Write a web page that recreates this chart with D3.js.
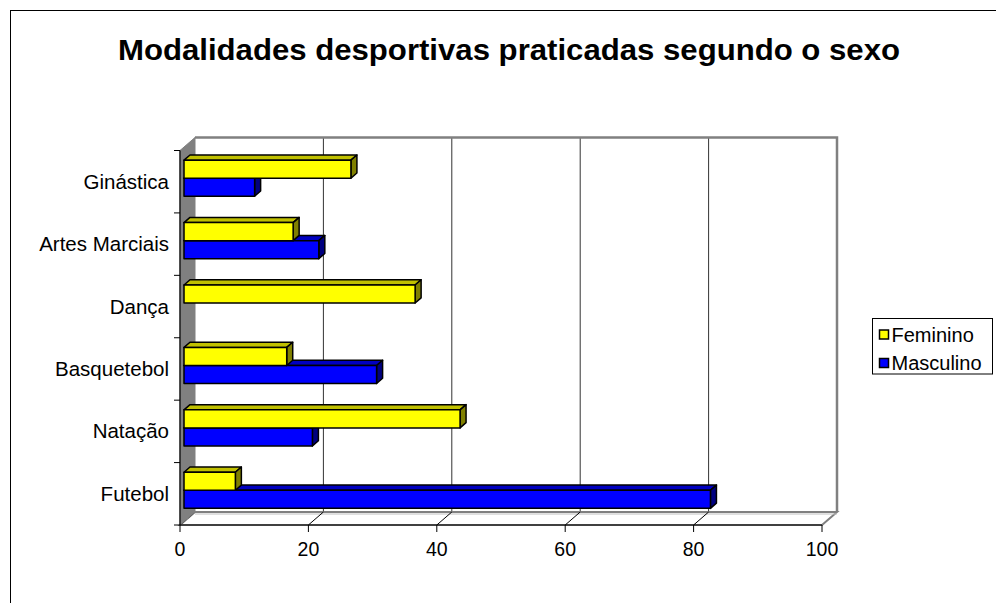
<!DOCTYPE html>
<html>
<head>
<meta charset="utf-8">
<script src="https://cdn.jsdelivr.net/npm/d3@7"></script>
<style>
  html, body { margin: 0; padding: 0; background: #fff; }
  svg { display: block; }
  text { font-family: Arial, "Liberation Sans", sans-serif; fill: #000; }
</style>
</head>
<body>
<svg id="chart" width="996" height="603"></svg>
<script>
// ---- data ----
const categories = ["Futebol", "Natação", "Basquetebol", "Dança", "Artes Marciais", "Ginástica"];
const feminino   = [8, 43, 16, 36, 17, 26];
const masculino  = [82, 20, 30, 0, 21, 11];
const seriesNames = ["Feminino", "Masculino"];
const xTicks = [0, 20, 40, 60, 80, 100];
const titleText = "Modalidades desportivas praticadas segundo o sexo";

// ---- layout ----
const svg = d3.select("#chart");
const frontLeft = 180, frontRight = 822, frontTop = 150.5, frontBottom = 525;
const depthDx = 15, depthDy = -13;           // wall depth
const barFront = [4, -3.5], barBack = [10, -8.7]; // bar depth offsets

const x = d3.scaleLinear().domain([0, 100]).range([frontLeft, frontRight]);
const y = d3.scaleBand().domain(categories).range([frontBottom, frontTop]);
const ySub = d3.scaleBand().domain(seriesNames).range([0, y.bandwidth()])
  .paddingInner(0).paddingOuter(0.73);

// outer border
svg.append("rect").attr("x", 10.5).attr("y", 10.5).attr("width", 1000).attr("height", 700)
  .attr("fill", "none").attr("stroke", "#000").attr("stroke-width", 1);

// title
svg.append("text").attr("x", 509).attr("y", 60).attr("text-anchor", "middle")
  .attr("font-size", 30).attr("font-weight", "bold")
  .attr("textLength", 782).attr("lengthAdjust", "spacingAndGlyphs")
  .text(titleText);

// back wall
const bx0 = frontLeft + depthDx, bx1 = frontRight + depthDx;
const by0 = frontTop + depthDy, by1 = frontBottom + depthDy;
svg.append("rect").attr("x", bx0).attr("y", by0).attr("width", bx1 - bx0).attr("height", by1 - by0)
  .attr("fill", "#fff").attr("stroke", "none");

// gridlines on back wall
svg.append("g").selectAll("line").data(xTicks.filter(d => d > 0 && d < 100)).join("line")
  .attr("x1", d => x(d) + depthDx).attr("x2", d => x(d) + depthDx)
  .attr("y1", by0).attr("y2", by1)
  .attr("stroke", "#333").attr("stroke-width", 1);

// back wall border (top & right)
svg.append("path")
  .attr("d", `M${bx0},${by0} L${bx1},${by0} L${bx1},${by1}`)
  .attr("fill", "none").attr("stroke", "#808080").attr("stroke-width", 2.5);

// floor
svg.append("path")
  .attr("d", `M${frontLeft},${frontBottom} L${bx0},${by1} L${bx1},${by1} L${frontRight},${frontBottom} Z`)
  .attr("fill", "#fff").attr("stroke", "#808080").attr("stroke-width", 2);
svg.append("line").attr("x1", bx0).attr("x2", bx1).attr("y1", by1 + 2).attr("y2", by1 + 2)
  .attr("stroke", "#c0c0c0").attr("stroke-width", 1);

// floor diagonals at ticks
svg.append("g").selectAll("line").data(xTicks.filter(d => d < 100)).join("line")
  .attr("x1", d => x(d)).attr("y1", frontBottom)
  .attr("x2", d => x(d) + depthDx).attr("y2", by1)
  .attr("stroke", "#000").attr("stroke-width", 1);

// left wall
svg.append("path")
  .attr("d", `M${frontLeft},${frontTop} L${bx0},${by0} L${bx0},${by1} L${frontLeft},${frontBottom} Z`)
  .attr("fill", "#808080").attr("stroke", "#808080").attr("stroke-width", 1);

// left axis line and ticks
svg.append("line").attr("x1", frontLeft).attr("x2", frontLeft).attr("y1", frontTop).attr("y2", frontBottom)
  .attr("stroke", "#000").attr("stroke-width", 1.2);
const catBounds = categories.map(c => y(c)).concat([y(categories[0]) + y.bandwidth()]);
svg.append("g").selectAll("line").data(catBounds).join("line")
  .attr("x1", frontLeft - 6).attr("x2", frontLeft).attr("y1", d => d).attr("y2", d => d)
  .attr("stroke", "#000").attr("stroke-width", 1);

// category labels
svg.append("g").selectAll("text").data(categories).join("text")
  .attr("x", 169).attr("y", d => y(d) + y.bandwidth() / 2 + 7)
  .attr("text-anchor", "end").attr("font-size", 20.5)
  .text(d => d);

// front x axis
svg.append("line").attr("x1", frontLeft).attr("x2", frontRight).attr("y1", frontBottom).attr("y2", frontBottom)
  .attr("stroke", "#000").attr("stroke-width", 1.2);
svg.append("g").selectAll("line").data(xTicks).join("line")
  .attr("x1", d => x(d)).attr("x2", d => x(d)).attr("y1", frontBottom).attr("y2", frontBottom + 7)
  .attr("stroke", "#000").attr("stroke-width", 1);
svg.append("g").selectAll("text").data(xTicks).join("text")
  .attr("x", d => x(d)).attr("y", 556).attr("text-anchor", "middle").attr("font-size", 19.5)
  .text(d => d);

// bars
const colors = {
  Feminino:  { front: "#ffff00", top: "#c0c000", side: "#808000" },
  Masculino: { front: "#0000ff", top: "#0000c0", side: "#000080" }
};
const rows = categories.map((c, i) => ({ cat: c, Feminino: feminino[i], Masculino: masculino[i] }));
const barG = svg.append("g");
rows.forEach(r => {
  ["Masculino", "Feminino"].forEach(s => {
    const v = r[s];
    if (!(v > 0)) return;
    const h = ySub.bandwidth();
    const y0 = y(r.cat) + ySub(s);
    const x0 = x(0), x1 = x(v);
    const fx = barFront[0], fy = barFront[1], kx = barBack[0], ky = barBack[1];
    const g = barG.append("g").attr("stroke", "#000").attr("stroke-width", 1.5).attr("stroke-linejoin", "round");
    // top face
    g.append("path").attr("fill", colors[s].top)
      .attr("d", `M${x0 + fx},${y0 + fy} L${x1 + fx},${y0 + fy} L${x1 + kx},${y0 + ky} L${x0 + kx},${y0 + ky} Z`);
    // side face
    g.append("path").attr("fill", colors[s].side)
      .attr("d", `M${x1 + fx},${y0 + fy} L${x1 + kx},${y0 + ky} L${x1 + kx},${y0 + ky + h} L${x1 + fx},${y0 + fy + h} Z`);
    // front face
    g.append("rect").attr("fill", colors[s].front)
      .attr("x", x0 + fx).attr("y", y0 + fy).attr("width", Math.max(0, x1 - x0)).attr("height", h);
  });
});

// legend
const lg = svg.append("g");
lg.append("rect").attr("x", 872.5).attr("y", 318.5).attr("width", 120).attr("height", 55.5)
  .attr("fill", "#fff").attr("stroke", "#000").attr("stroke-width", 1);
seriesNames.forEach((s, i) => {
  const cy = 334.5 + i * 28.5;
  lg.append("rect").attr("x", 879.5).attr("y", cy - 4.5).attr("width", 9).attr("height", 9)
    .attr("fill", colors[s].front).attr("stroke", "#000").attr("stroke-width", 1.5);
  lg.append("text").attr("x", 891.5).attr("y", cy + 7).attr("font-size", 20).text(s);
});
</script>
</body>
</html>
